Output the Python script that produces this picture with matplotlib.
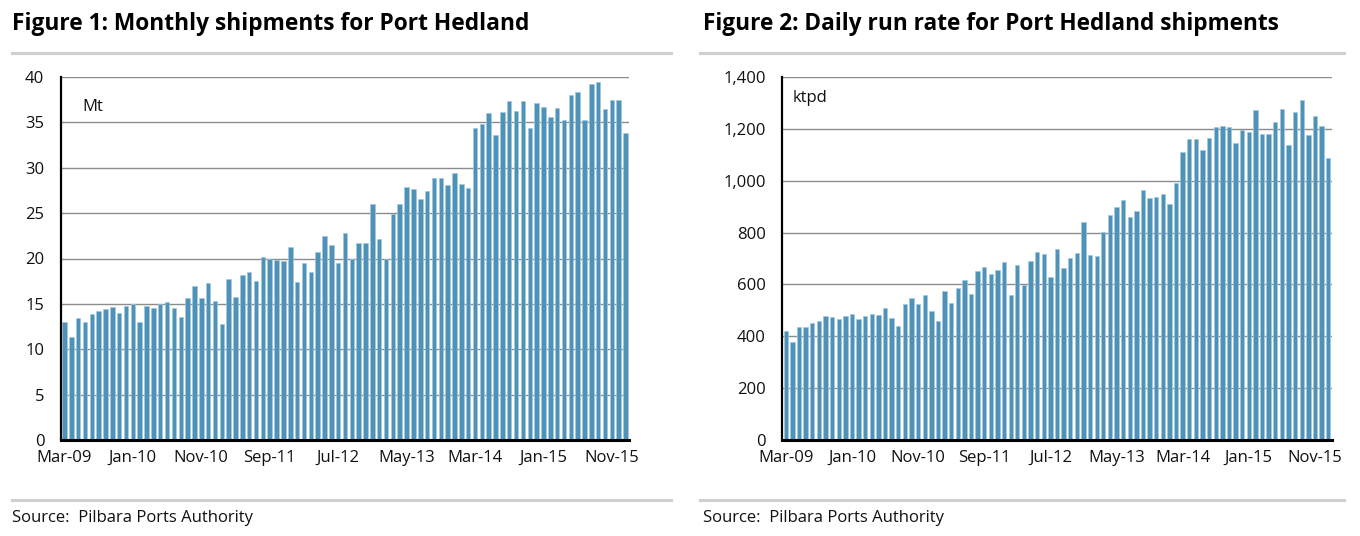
import matplotlib
matplotlib.use("Agg")
import matplotlib.pyplot as plt
from matplotlib import font_manager
from matplotlib.lines import Line2D
import numpy as np

# ---------------- data ----------------
months = ["Mar-09", "Apr-09", "May-09", "Jun-09", "Jul-09", "Aug-09", "Sep-09", "Oct-09", "Nov-09", "Dec-09",
          "Jan-10", "Feb-10", "Mar-10", "Apr-10", "May-10", "Jun-10", "Jul-10", "Aug-10", "Sep-10", "Oct-10",
          "Nov-10", "Dec-10", "Jan-11", "Feb-11", "Mar-11", "Apr-11", "May-11", "Jun-11", "Jul-11", "Aug-11",
          "Sep-11", "Oct-11", "Nov-11", "Dec-11", "Jan-12", "Feb-12", "Mar-12", "Apr-12", "May-12", "Jun-12",
          "Jul-12", "Aug-12", "Sep-12", "Oct-12", "Nov-12", "Dec-12", "Jan-13", "Feb-13", "Mar-13", "Apr-13",
          "May-13", "Jun-13", "Jul-13", "Aug-13", "Sep-13", "Oct-13", "Nov-13", "Dec-13", "Jan-14", "Feb-14",
          "Mar-14", "Apr-14", "May-14", "Jun-14", "Jul-14", "Aug-14", "Sep-14", "Oct-14", "Nov-14", "Dec-14",
          "Jan-15", "Feb-15", "Mar-15", "Apr-15", "May-15", "Jun-15", "Jul-15", "Aug-15", "Sep-15", "Oct-15",
          "Nov-15", "Dec-15", "Jan-16"]

shipments_mt = [13.0, 11.3, 13.4, 13.0, 13.9, 14.2, 14.4, 14.7, 14.0, 14.8,
                15.0, 13.0, 14.8, 14.6, 15.0, 15.2, 14.6, 13.6, 15.6, 17.0,
                15.7, 17.3, 15.3, 12.8, 17.7, 15.8, 18.2, 18.5, 17.5, 20.2,
                20.0, 19.8, 19.7, 21.3, 17.4, 19.5, 18.5, 20.7, 22.5, 21.5,
                19.5, 22.8, 19.9, 21.7, 21.7, 26.0, 22.1, 19.9, 24.9, 26.0,
                27.9, 27.7, 26.6, 27.4, 28.9, 28.9, 28.1, 29.4, 28.2, 27.8,
                34.4, 34.8, 36.0, 33.6, 36.1, 37.4, 36.3, 37.4, 34.4, 37.1,
                36.7, 35.6, 36.6, 35.3, 38.0, 38.3, 35.3, 39.2, 39.4, 36.5,
                37.5, 37.5, 33.8]

run_rate_ktpd = [421, 378, 434, 434, 450, 459, 480, 474, 466, 480,
                 485, 466, 478, 485, 484, 509, 471, 439, 523, 548,
                 524, 559, 496, 459, 574, 529, 587, 618, 565, 651,
                 667, 641, 656, 688, 561, 674, 597, 690, 726, 717,
                 629, 735, 663, 701, 723, 839, 713, 710, 804, 867,
                 900, 925, 859, 882, 966, 934, 936, 950, 909, 992,
                 1111, 1160, 1162, 1120, 1164, 1206, 1210, 1209, 1147, 1196,
                 1187, 1273, 1180, 1179, 1225, 1278, 1138, 1264, 1313, 1177,
                 1248, 1210, 1089]

x_tick_labels = ["Mar-09", "Jan-10", "Nov-10", "Sep-11", "Jul-12", "May-13", "Mar-14", "Jan-15", "Nov-15"]
y1_ticks = [0, 5, 10, 15, 20, 25, 30, 35, 40]
y2_ticks = [0, 200, 400, 600, 800, 1000, 1200, 1400]

title1 = "Figure 1: Monthly shipments for Port Hedland"
title2 = "Figure 2: Daily run rate for Port Hedland shipments"
source = "Source:  Pilbara Ports Authority"

# ---------------- style ----------------
available = {f.name for f in font_manager.fontManager.ttflist}
BODY = ["Open Sans", "DejaVu Sans"]
TITLE = (["Liberation Sans Narrow"] if "Liberation Sans Narrow" in available else []) + ["Open Sans", "DejaVu Sans"]
plt.rcParams["font.family"] = BODY

BAR = "#4e92b8"
EDGE = "#a3c9de"
GRID = "#8c8c8c"
RULE = "#cfcfcf"

W, H = 1360, 536
fig = plt.figure(figsize=(W / 100, H / 100), dpi=100)


def px_axes(x0, y0, x1, y1):
    return fig.add_axes([x0 / W, 1 - y1 / H, (x1 - x0) / W, (y1 - y0) / H])


def draw(ax, values, yticks, ylabels, unit, unit_x):
    x = np.arange(len(values))
    ax.bar(x, values, width=0.66, color=BAR, edgecolor=EDGE, linewidth=0.5, zorder=2)
    ax.set_xlim(-0.5, len(values) - 0.5)
    ax.set_ylim(yticks[0], yticks[-1])
    ax.set_yticks(yticks)
    ax.set_yticklabels(ylabels)
    tick_pos = [months.index(m) for m in x_tick_labels]
    ax.set_xticks(tick_pos)
    ax.set_xticklabels(x_tick_labels)
    ax.tick_params(axis="both", length=0, labelsize=12, colors="#111111")
    ax.tick_params(axis="y", pad=12)
    ax.tick_params(axis="x", pad=7)
    for yv in yticks[1:]:
        ax.axhline(yv, color=GRID, linewidth=1.0, zorder=1)
    for s in ["top", "right"]:
        ax.spines[s].set_visible(False)
    ax.spines["left"].set_linewidth(1.6)
    ax.spines["left"].set_color("black")
    ax.spines["bottom"].set_linewidth(2.2)
    ax.spines["bottom"].set_color("black")
    ax.spines["bottom"].set_zorder(3)
    ax.spines["left"].set_zorder(3)
    ax.text(unit_x, 0.905, unit, transform=ax.transAxes, fontsize=12, va="baseline", ha="left",
            color="#111111")


ax1 = px_axes(61, 77, 629, 440)
draw(ax1, shipments_mt, y1_ticks, [str(v) for v in y1_ticks], "Mt", 0.038)

ax2 = px_axes(782.5, 77, 1331.5, 440)
draw(ax2, run_rate_ktpd, y2_ticks, [f"{v:,}" for v in y2_ticks], "ktpd", 0.019)
ax2.texts[-1].set_y(0.93)

# titles, rules, sources
renderer = fig.canvas.get_renderer()


def fit_title(x, y, text, target_w):
    t = fig.text(x / W, 1 - y / H, text, fontsize=16.5, fontweight="bold", family=TITLE,
                 ha="left", va="center", color="black")
    w = t.get_window_extent(renderer).width
    t.set_fontsize(16.5 * target_w / w)
    return t


fit_title(12, 24, title1, 518)
fit_title(703, 24, title2, 574)

for (x0, x1) in [(12, 671), (700, 1344)]:
    for yy in (53, 500):
        fig.add_artist(Line2D([x0 / W, x1 / W], [1 - yy / H, 1 - yy / H], color=RULE, linewidth=2.2))

fig.text(12 / W, 1 - 518 / H, source, fontsize=12, ha="left", va="center", color="#111111")
fig.text(703 / W, 1 - 518 / H, source, fontsize=12, ha="left", va="center", color="#111111")

fig.savefig("out.png", dpi=100)
